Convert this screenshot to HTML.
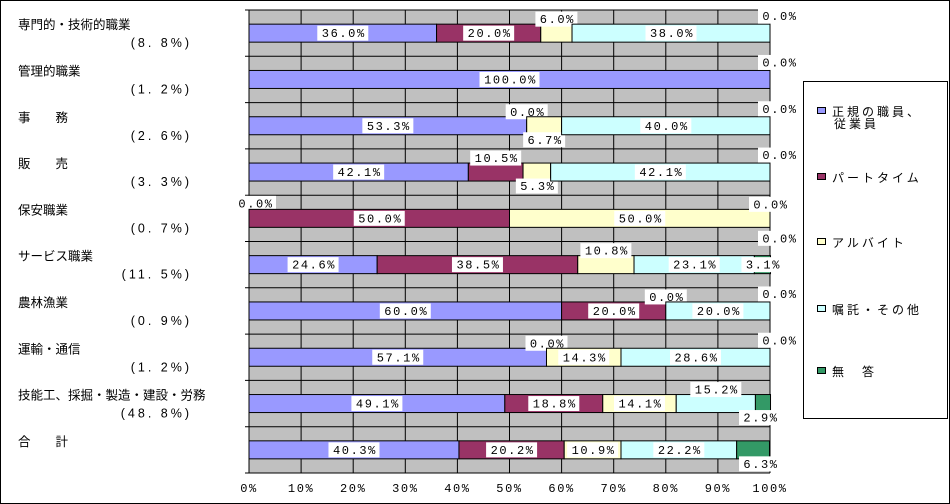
<!DOCTYPE html>
<html><head><meta charset="utf-8">
<style>
body{margin:0;background:#fff;}
svg{display:block;font-family:"Liberation Sans","Noto Sans CJK JP",sans-serif;}
.v{font-family:"Liberation Mono","Noto Sans CJK JP",monospace;font-size:12px;letter-spacing:1.6px;}
</style></head>
<body>
<svg id="c" width="950" height="504" xmlns="http://www.w3.org/2000/svg">
<rect x="0.5" y="0.5" width="949" height="503" fill="#fff" stroke="#000"/>
</svg>
<script>
const categories=["専門的・技術的職業","管理的職業","事　　務","販　　売","保安職業","サービス職業","農林漁業","運輸・通信","技能工、採掘・製造・建設・労務","合　　計"];
const shares=["(8. 8%)","(1. 2%)","(2. 6%)","(3. 3%)","(0. 7%)","(11. 5%)","(0. 9%)","(1. 2%)","(48. 8%)",""];
const seriesNames=["正規の職員、従業員","パートタイム","アルバイト","嘱託・その他","無　答"];
const regular=[36.0,100.0,53.3,42.1,0.0,24.6,60.0,57.1,49.1,40.3];
const partTime=[20.0,0.0,0.0,10.5,50.0,38.5,20.0,0.0,18.8,20.2];
const arbeit=[6.0,0.0,6.7,5.3,50.0,10.8,0.0,14.3,14.1,10.9];
const other=[38.0,0.0,40.0,42.1,0.0,23.1,20.0,28.6,15.2,22.2];
const noAnswer=[0.0,0.0,0.0,0.0,0.0,3.1,0.0,0.0,2.9,6.3];
const xTicks=[0,10,20,30,40,50,60,70,80,90,100];
// label placement modes: c=center, a=above, b=below, n=none, r=above-end, s=below-end, l=above-start
const placement=[
 ["c","c","a","c","r"],["c","n","n","n","r"],["c","a","b","c","r"],["c","a","b","c","r"],["l","c","c","a","s"],
 ["c","c","a","c","c"],["c","c","a","c","r"],["c","a","c","c","r"],["c","c","c","a","b"],["c","c","c","c","b"]];
const colors=["#9999FF","#993366","#FFFFCC","#CCFFFF","#339966"];
const NS="http://www.w3.org/2000/svg";
const svg=document.getElementById('c');
const X0=249,X1=770,Y0=10,Y1=473,band=(Y1-Y0)/categories.length,BH=18;
const xs=v=>X0+(X1-X0)*v/100;
const yc=i=>Y0+band*i+band/2;
function mk(t,a,p){const e=document.createElementNS(NS,t);for(const k in a)e.setAttribute(k,a[k]);(p||svg).appendChild(e);return e;}
const bg=mk('rect',{x:X0,y:Y0,width:X1-X0,height:Y1-Y0,fill:'#C0C0C0'});


xTicks.forEach(t=>{
  const l=mk('line',{x1:xs(t),x2:xs(t),y1:Y0,y2:Y1,stroke:'#000','stroke-width':1});
  
  
  const tx=mk('text',{x:xs(t),y:492,'text-anchor':'middle',class:'v'});
  tx.textContent=t+'%';
  
  
});
for(let i=0;i<=categories.length;i++){
  const y=Y0+band*i;
  const l=mk('line',{x1:X0-4,x2:X1,y1:y,y2:y,stroke:'#000','stroke-width':1});
  
  
}
const series=[regular,partTime,arbeit,other,noAnswer];
categories.forEach((c,i)=>{
  const cy=yc(i);
  const t=mk('text',{x:18,y:cy-4,'font-size':12.5});t.textContent=c;
  
  
  if(shares[i]){const s=mk('text',{x:192,y:cy+14,'font-size':12.5,'text-anchor':'end','letter-spacing':'3'});s.textContent=shares[i];
  
  }
  let acc=0;
  series.forEach((arr,k)=>{
    const v=arr[i];
    if(v>0){
      const r=mk('rect',{x:xs(acc),y:cy-BH/2,width:xs(acc+v)-xs(acc),height:BH,fill:colors[k],stroke:'#000','stroke-width':1});
      
      
    }
    const m=placement[i][k];
    if(m!=='n'){
      let lx=(xs(acc)+xs(acc+v))/2,ly=cy;
      if(m==='a')ly=cy-14; if(m==='b')ly=cy+14;
      if(m==='r'){lx=xs(100)+9;ly=cy-17;}
      if(m==='s'){lx=xs(100)+9;ly=cy+20;}
      if(m==='l'){lx=xs(0)+6;ly=cy-15;}
      if(k===4&&m==='b'){lx=xs(100)-10;}
      const txt=v.toFixed(1)+'%';
      const w=txt.length*9+6;
      const box=mk('rect',{x:lx-w/2,y:ly-7.5,width:w,height:15,fill:'#fff'});
      
      
      const tt=mk('text',{x:lx+1,y:ly+4,'text-anchor':'middle',class:'v'});
      tt.textContent=txt;
      
      
    }
    acc+=v;
  });
});
const lg=mk('rect',{x:803.5,y:81.5,width:144,height:337,fill:'#fff',stroke:'#000'});


const ly=[112,178,243,310,372];
seriesNames.forEach((n,k)=>{
  const sw=mk('rect',{x:817.5,y:ly[k]-4.5,width:8,height:6,fill:colors[k],stroke:'#000'});
  
  
  const t=mk('text',{x:832,y:ly[k]+4,'font-size':12,'letter-spacing':'3'});
  
  
  if(k===0){t.textContent='正規の職員、';const t2=mk('text',{x:834,y:ly[k]+16,'font-size':12,'letter-spacing':'3'});t2.textContent='従業員';
    
    }
  else t.textContent=n;
});
</script>
</body></html>
